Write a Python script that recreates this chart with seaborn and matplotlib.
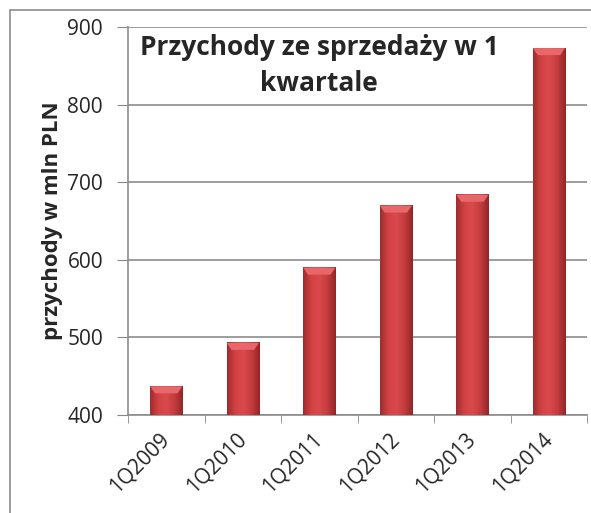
import numpy as np
import pandas as pd
import matplotlib.pyplot as plt
import matplotlib.patches as mpatches
from matplotlib.colors import LinearSegmentedColormap
import seaborn as sns

quarters = ['1Q2009', '1Q2010', '1Q2011', '1Q2012', '1Q2013', '1Q2014']
revenue = [437, 493, 590, 670, 684, 873]
y_ticks = [400, 500, 600, 700, 800, 900]

df = pd.DataFrame({'kwartal': quarters, 'przychody': revenue})

sns.set_style('white')
plt.rcParams['font.family'] = ['Open Sans', 'DejaVu Sans']

fig = plt.figure(figsize=(5.91, 5.13), dpi=100)
ax = fig.add_axes([0.2166, 0.191, 0.777, 0.756])

sns.barplot(data=df, x='kwartal', y='przychody', color='#c83a3c', width=0.42,
            edgecolor='#8e2224', linewidth=0.6, ax=ax, zorder=3)

ax.set_ylim(400, 900)
ax.set_xlim(-0.5, len(quarters) - 0.5)
ax.set_yticks(y_ticks)
ax.set_yticklabels([str(t) for t in y_ticks], fontsize=15)

# horizontal shading on each bar, like the original
cmap = LinearSegmentedColormap.from_list('bar', ['#a02c2d', '#d24244', '#da4a4c', '#c43c3e', '#932627'])
grad = np.linspace(0, 1, 64).reshape(1, -1)
y_bottom = ax.get_ylim()[0]
for p in ax.patches:
    x0, w = p.get_x(), p.get_width()
    top = p.get_y() + p.get_height()
    ax.imshow(grad, extent=[x0, x0 + w, y_bottom, top], aspect='auto',
              cmap=cmap, zorder=3.5, origin='lower')
    # lighter bevel at the top of the bar
    bev = 9
    ax.add_patch(mpatches.Polygon([[x0, top], [x0 + w, top],
                                   [x0 + w * 0.85, top - bev], [x0 + w * 0.15, top - bev]],
                                  closed=True, facecolor='#e8676a', edgecolor='none', zorder=4))
ax.set_xlim(-0.5, len(quarters) - 0.5)
ax.set_ylim(400, 900)

ax.set_xticks(range(len(quarters)))
ax.set_xticklabels(quarters, rotation=45, ha='right', va='center',
                   rotation_mode='anchor', fontsize=15)
ax.tick_params(axis='x', length=0, pad=15)
ax.tick_params(axis='y', length=8, color='#888888', left=True, pad=10)
ax.set_xticks(np.arange(-0.5, len(quarters), 1), minor=True)
ax.tick_params(axis='x', which='minor', length=6, color='#888888', bottom=True, direction='out')

ax.yaxis.grid(True, color='#8c8c8c', linewidth=1.2, zorder=0)
ax.set_axisbelow(True)
for side in ['top', 'right']:
    ax.spines[side].set_visible(False)
for side in ['left', 'bottom']:
    ax.spines[side].set_color('#8c8c8c')
    ax.spines[side].set_linewidth(1.2)

ax.set_xlabel('')
ax.set_ylabel('')
fig.text(53 / 591, 1 - 221 / 513, 'przychody w mln PLN', rotation=90, ha='center', va='center',
         fontsize=16, fontweight='bold')

fig.text(319 / 591, 1 - 34 / 513, 'Przychody ze sprzedaży w 1\nkwartale', ha='center', va='top',
         fontsize=19, fontweight='bold', linespacing=1.45)

# outer chart frame
frame = mpatches.Rectangle((10 / 591, -0.1), 1.2, 1 - 10 / 513 + 0.1, transform=fig.transFigure,
                           fill=False, edgecolor='#8c8c8c', linewidth=1.2)
fig.patches.append(frame)

fig.savefig('out.png', dpi=100)
